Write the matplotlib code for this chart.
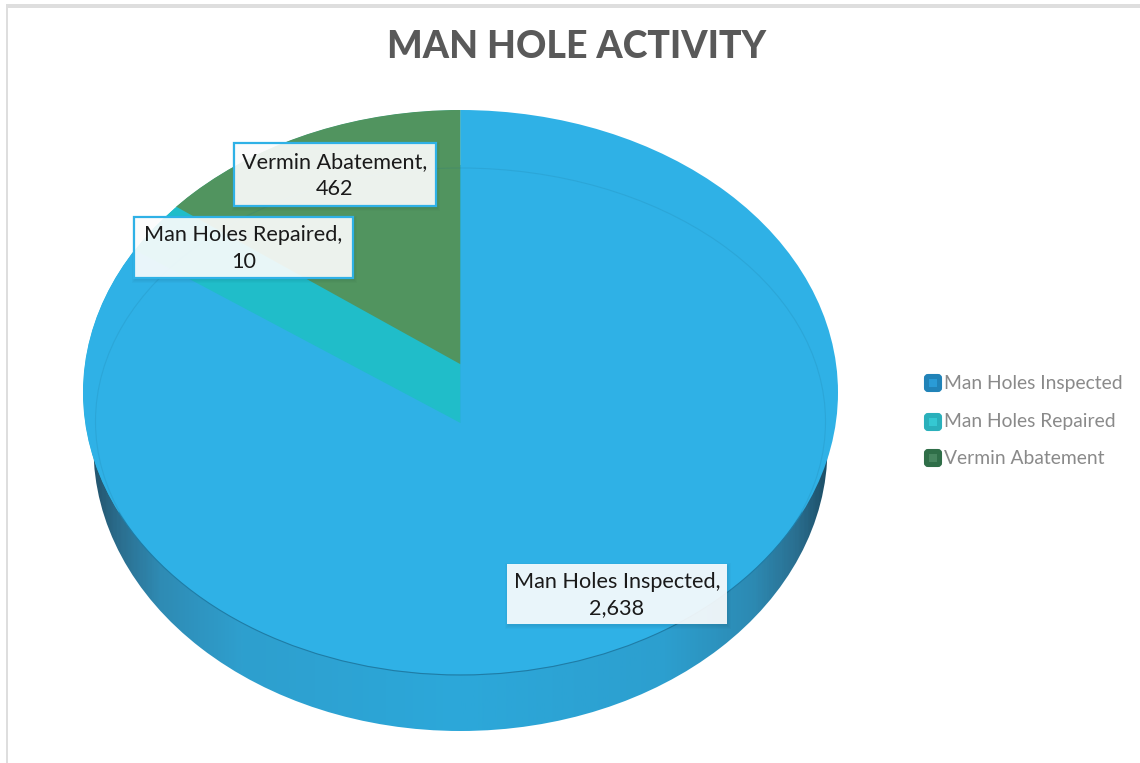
import numpy as np
import matplotlib
matplotlib.use("Agg")
import matplotlib.pyplot as plt
from matplotlib.patches import Ellipse, Arc, Rectangle, FancyBboxPatch, Wedge
from matplotlib.colors import LinearSegmentedColormap

title = "MAN HOLE ACTIVITY"
categories = ["Man Holes Inspected", "Man Holes Repaired", "Vermin Abatement"]
values = [2638, 10, 462]
colors = ["#2fb1e6", "#20bdc9", "#51945f"]
legend_colors = ["#2183b8", "#2ab0bb", "#2f6e48"]
legend_inner = ["#2a9bd6", "#35c8d2", "#47855f"]

W, H = 1140, 763
fig = plt.figure(figsize=(W / 100, H / 100), dpi=100, facecolor="white")

# background layer in pixel coordinates (frame, pie side wall)
bg = fig.add_axes([0, 0, 1, 1], zorder=0)
bg.set_xlim(0, W)
bg.set_ylim(H, 0)
bg.axis("off")
bg.add_patch(Rectangle((6, 4), W - 6, 4, fc="#dedede", ec="none"))
bg.add_patch(Rectangle((6, 4), 2, H - 4, fc="#dedede", ec="none"))

wall_cmap = LinearSegmentedColormap.from_list(
    "wall",
    [(0.0, "#24566f"), (0.035, "#2b6f90"), (0.09, "#2f8bb4"), (0.2, "#2e9fce"),
     (0.5, "#2ca8da"), (0.78, "#2c9fcf"), (0.9, "#2d8ab3"), (0.96, "#2a6f90"), (1.0, "#1d4f68")])
wall = Ellipse((460.5, 448), 2 * 367, 2 * 283, fc="none", ec="none", transform=bg.transData)
bg.add_patch(wall)
im = bg.imshow(np.linspace(0, 1, 400).reshape(1, -1), cmap=wall_cmap, aspect="auto",
               extent=(93, 828, 731, 165), zorder=1)
im.set_clip_path(wall)
bg.set_xlim(0, W)
bg.set_ylim(H, 0)

# pie top face
ax = fig.add_axes([83 / W, (H - 675) / H, 755 / W, 565 / H], zorder=1)
ax.patch.set_alpha(0)
wedges, _ = ax.pie(values, colors=colors, startangle=90, counterclock=False, radius=1,
                   wedgeprops={"linewidth": 0})
ax.set_aspect("auto")
ax.set_xlim(-1, 1)
ax.set_ylim(-1, 1)
ax.axis("off")

outline = Ellipse((0, 0), 2, 2, fc="none", ec="none", transform=ax.transData)
ax.add_patch(outline)

# blue and green faces have their apexes pulled apart, the repaired colour fills between
band = Wedge((0, 0), 1, 90, 270, fc=colors[1], ec="none", zorder=0.5)
ax.add_patch(band)
band.set_clip_path(outline)
wedges[0].set_center((0, -0.108))
wedges[0].set_radius(1.4)
wedges[2].set_center((0, 0.10))
wedges[2].set_radius(1.4)
for w, z in zip(wedges, (3, 1, 2)):
    w.set_zorder(z)
    w.set_clip_on(True)
    w.set_clip_path(outline)

# bevel and rim lines
bevel = Ellipse((0, -(421.5 - 392.5) / 282.5), 2 * 365 / 377.5, 2 * 253.5 / 282.5, fc="none",
                ec="#1b6f8f", lw=0.8, alpha=0.16, zorder=4)
ax.add_patch(bevel)
bevel.set_clip_path(outline)
rim = Arc((0, 0), 2, 2, theta1=205, theta2=335, ec="#1f7ca6", lw=0.8, zorder=5, clip_on=False)
ax.add_patch(rim)

# overlay in pixel coordinates: title, data labels, legend
ov = fig.add_axes([0, 0, 1, 1], zorder=2)
ov.set_xlim(0, W)
ov.set_ylim(H, 0)
ov.axis("off")
ov.patch.set_alpha(0)

ov.text(576.5, 47.5, title, ha="center", va="center", fontsize=27, fontweight=900,
        family="Lato", color="#595959")

label_boxes = [(507, 564, 220, 60), (134, 217, 219, 61), (234, 143, 202, 63)]
for cat, val, (x, y, w, h), edge in zip(categories, values, label_boxes,
                                        [False, True, True]):
    for k in range(1, 5):
        ov.add_patch(Rectangle((x - k + 2, y - k + 3), w + 2 * k - 2, h + 2 * k - 2,
                               fc="black", ec="none", alpha=0.02))
    ov.add_patch(Rectangle((x, y), w, h, fc="white", alpha=0.9, ec="none"))
    if edge:
        ov.add_patch(Rectangle((x, y), w, h, fc="none", ec="#2fb1e6", lw=1.6))
    ov.text(x + w / 2, y + h / 2 + 1, f"{cat},\n{val:,}", ha="center", va="center", fontsize=15.6,
            family="Lato", color="#1a1a1a", linespacing=1.4)

legend_y = [383, 422, 458]
for cat, c, ci, y in zip(categories, legend_colors, legend_inner, legend_y):
    ov.add_patch(FancyBboxPatch((925, y - 8), 16, 16, boxstyle="round,pad=0,rounding_size=3",
                                fc=c, ec=c, lw=1.5))
    ov.add_patch(Rectangle((929, y - 4), 8, 8, fc=ci, ec="none"))
    ov.text(944, y, cat, ha="left", va="center", fontsize=13.9, family="Lato", color="#8a8a8a")

fig.savefig("out.png", dpi=100)
